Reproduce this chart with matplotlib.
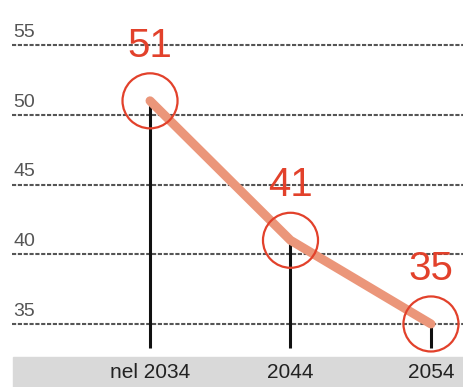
import matplotlib.pyplot as plt

# values per year
years = ["nel 2034", "2044", "2054"]
values = [51, 41, 35]
yticks = [35, 40, 45, 50, 55]

RED = "#e2412b"
ORANGE = "#eb967a"

fig = plt.figure(figsize=(4.63, 3.87), dpi=100)
ax = fig.add_axes([0, 0, 1, 1])
ax.set_axis_off()
ax.set_xlim(-1.068, 2.228)
ax.set_ylim(30.48, 58.23)

xs = list(range(len(years)))

# grey band behind the year labels
ax.axhspan(30.48, 32.63, xmin=13 / 463, xmax=1, color="#d9d9d9", zorder=0)

# dotted gridlines with labels sitting on top
for t in yticks:
    ax.plot([-0.982, 2.228], [t, t], color="#555555", lw=1.5,
            ls=(0, (2, 0.8)), zorder=1)
    ax.text(-0.975, t + 0.3, str(t), ha="left", va="bottom",
            fontsize=14, color="#555555", family="Liberation Sans")

# stems from the bottom up to each value
for x, v in zip(xs, values):
    ax.plot([x, x], [33.28, v], color="#111111", lw=2.2, zorder=2,
            solid_capstyle="butt")

# trend line
ax.plot(xs, values, color=ORANGE, lw=6.5, zorder=3,
        solid_capstyle="round", solid_joinstyle="round")

# circles and value labels
ax.scatter(xs, values, s=1570, facecolors="none", edgecolors=RED,
           linewidths=1.6, zorder=4)
for x, v in zip(xs, values):
    ax.annotate(str(v), (x, v), xytext=(0, 26), textcoords="offset points",
                ha="center", va="bottom", fontsize=29, color=RED,
                family="Liberation Sans")

# year labels
for x, lab in zip(xs, years):
    ax.text(x, 31.55, lab, ha="center", va="center", fontsize=15,
            color="#222222", family="Liberation Sans")

fig.savefig("out.png", dpi=100)
